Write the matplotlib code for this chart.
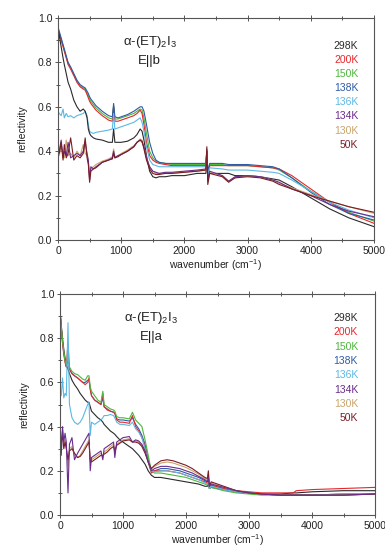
import numpy as np
import matplotlib
matplotlib.use("Agg")
import matplotlib.pyplot as plt
from matplotlib.ticker import MultipleLocator

plt.rcParams['font.family'] = ['Liberation Sans', 'DejaVu Sans']
plt.rcParams['mathtext.fontset'] = 'custom'
plt.rcParams['mathtext.rm'] = 'Liberation Sans'
plt.rcParams['mathtext.it'] = 'Liberation Serif'
plt.rcParams['mathtext.default'] = 'regular'

# ---------------- data ----------------
temps = ['298K', '200K', '150K', '138K', '136K', '134K', '130K', '50K']
colors = {'298K': '#2a2a2a', '200K': '#e8262b', '150K': '#4cb83a', '138K': '#2d5ba6',
          '136K': '#5cb8e4', '134K': '#6a2c8c', '130K': '#c9a46c', '50K': '#7a1d24'}

# E||b panel
wn_b = [0, 20, 50, 80, 100, 130, 160, 200, 250, 300, 350, 400, 430, 460, 480, 500, 520, 560,
        600, 700, 800, 860, 880, 900, 950, 1000, 1100, 1200, 1250, 1300, 1330, 1360, 1400,
        1450, 1500, 1550, 1600, 1700, 1800, 2000, 2200, 2340, 2355, 2370, 2400, 2600, 2700,
        2800, 3000, 3200, 3400, 3500, 3700, 4000, 4300, 4600, 5000]
rb_298 = [0.95, 0.92, 0.87, 0.82, 0.79, 0.75, 0.71, 0.68, 0.63, 0.60, 0.58, 0.59, 0.58, 0.55,
          0.50, 0.48, 0.47, 0.46, 0.455, 0.45, 0.44, 0.44, 0.50, 0.44, 0.44, 0.44, 0.445, 0.46,
          0.475, 0.50, 0.49, 0.45, 0.38, 0.31, 0.285, 0.28, 0.285, 0.285, 0.29, 0.29, 0.30,
          0.30, 0.36, 0.28, 0.30, 0.30, 0.30, 0.29, 0.29, 0.285, 0.275, 0.27, 0.24, 0.19,
          0.14, 0.10, 0.06]
rb_200 = [0.95, 0.93, 0.90, 0.87, 0.85, 0.82, 0.79, 0.77, 0.74, 0.71, 0.69, 0.68, 0.675, 0.655,
          0.64, 0.625, 0.615, 0.60, 0.585, 0.56, 0.54, 0.535, 0.60, 0.535, 0.535, 0.54, 0.55,
          0.56, 0.57, 0.585, 0.57, 0.52, 0.44, 0.38, 0.36, 0.35, 0.345, 0.34, 0.335, 0.335,
          0.335, 0.335, 0.40, 0.30, 0.335, 0.335, 0.335, 0.335, 0.335, 0.33, 0.325, 0.32,
          0.29, 0.23, 0.17, 0.12, 0.075]
rb_150 = [0.95, 0.93, 0.905, 0.875, 0.855, 0.825, 0.795, 0.775, 0.745, 0.715, 0.695, 0.685,
          0.68, 0.66, 0.65, 0.635, 0.625, 0.61, 0.595, 0.57, 0.55, 0.545, 0.605, 0.545, 0.545,
          0.55, 0.56, 0.57, 0.58, 0.59, 0.585, 0.55, 0.48, 0.40, 0.37, 0.355, 0.35, 0.345,
          0.34, 0.34, 0.34, 0.34, 0.40, 0.30, 0.34, 0.34, 0.335, 0.335, 0.335, 0.33, 0.325,
          0.315, 0.28, 0.22, 0.17, 0.125, 0.085]
rb_138 = [0.96, 0.94, 0.91, 0.88, 0.86, 0.83, 0.80, 0.78, 0.75, 0.72, 0.70, 0.69, 0.685, 0.67,
          0.66, 0.645, 0.635, 0.62, 0.605, 0.58, 0.56, 0.555, 0.615, 0.555, 0.55, 0.555, 0.565,
          0.58, 0.59, 0.60, 0.60, 0.58, 0.52, 0.44, 0.39, 0.36, 0.35, 0.345, 0.345, 0.345,
          0.345, 0.345, 0.41, 0.31, 0.345, 0.345, 0.34, 0.34, 0.34, 0.335, 0.33, 0.32, 0.28,
          0.215, 0.16, 0.12, 0.09]
rb_136 = [0.58, 0.57, 0.56, 0.59, 0.55, 0.57, 0.555, 0.56, 0.55, 0.56, 0.565, 0.57, 0.58, 0.56,
          0.52, 0.49, 0.485, 0.48, 0.485, 0.49, 0.495, 0.50, 0.57, 0.50, 0.505, 0.51, 0.52,
          0.53, 0.54, 0.55, 0.53, 0.49, 0.42, 0.36, 0.34, 0.335, 0.33, 0.33, 0.33, 0.33, 0.33,
          0.33, 0.39, 0.29, 0.325, 0.32, 0.315, 0.315, 0.315, 0.31, 0.305, 0.30, 0.27, 0.22,
          0.17, 0.135, 0.10]
rb_134 = [0.42, 0.40, 0.45, 0.37, 0.40, 0.38, 0.44, 0.37, 0.38, 0.39, 0.38, 0.40, 0.44, 0.39,
          0.36, 0.27, 0.33, 0.32, 0.33, 0.35, 0.36, 0.37, 0.40, 0.37, 0.38, 0.385, 0.40, 0.42,
          0.44, 0.45, 0.44, 0.42, 0.37, 0.33, 0.31, 0.305, 0.30, 0.305, 0.305, 0.31, 0.315,
          0.32, 0.40, 0.27, 0.31, 0.29, 0.265, 0.285, 0.29, 0.285, 0.27, 0.26, 0.23, 0.20,
          0.16, 0.13, 0.105]
rb_130 = [0.40, 0.38, 0.42, 0.39, 0.37, 0.45, 0.38, 0.39, 0.37, 0.40, 0.38, 0.43, 0.39, 0.38,
          0.35, 0.29, 0.32, 0.33, 0.34, 0.355, 0.365, 0.375, 0.41, 0.375, 0.38, 0.39, 0.405,
          0.425, 0.44, 0.455, 0.45, 0.42, 0.37, 0.33, 0.31, 0.30, 0.30, 0.30, 0.30, 0.305,
          0.31, 0.315, 0.39, 0.26, 0.305, 0.29, 0.265, 0.28, 0.29, 0.285, 0.27, 0.255, 0.235,
          0.205, 0.175, 0.15, 0.12]
rb_50 = [0.41, 0.39, 0.44, 0.36, 0.43, 0.37, 0.39, 0.46, 0.36, 0.38, 0.37, 0.39, 0.46, 0.37,
         0.34, 0.26, 0.31, 0.32, 0.325, 0.35, 0.36, 0.365, 0.39, 0.37, 0.375, 0.385, 0.40, 0.42,
         0.44, 0.45, 0.445, 0.41, 0.36, 0.32, 0.30, 0.295, 0.295, 0.30, 0.30, 0.305, 0.31,
         0.315, 0.42, 0.25, 0.30, 0.285, 0.26, 0.28, 0.285, 0.28, 0.265, 0.25, 0.23, 0.20,
         0.175, 0.15, 0.125]

# E||a panel
wn_a = [0, 20, 40, 60, 80, 100, 127, 150, 190, 230, 280, 320, 360, 400, 440, 460, 480, 500,
        550, 600, 650, 680, 700, 750, 800, 850, 870, 900, 950, 1000, 1100, 1150, 1200, 1250,
        1300, 1350, 1400, 1450, 1500, 1600, 1700, 1800, 1900, 2000, 2100, 2200, 2300, 2340,
        2355, 2370, 2400, 2600, 2800, 3000, 3200, 3500, 3700, 3750, 4000, 4500, 5000]
ra_298 = [0.93, 0.86, 0.80, 0.75, 0.71, 0.68, 0.66, 0.64, 0.61, 0.59, 0.57, 0.55, 0.535, 0.52,
          0.51, 0.51, 0.49, 0.47, 0.455, 0.44, 0.43, 0.42, 0.41, 0.395, 0.38, 0.37, 0.365,
          0.355, 0.34, 0.33, 0.31, 0.30, 0.285, 0.27, 0.25, 0.23, 0.20, 0.18, 0.17, 0.17,
          0.165, 0.16, 0.155, 0.15, 0.145, 0.14, 0.13, 0.13, 0.15, 0.12, 0.125, 0.115, 0.105,
          0.10, 0.095, 0.095, 0.10, 0.10, 0.105, 0.11, 0.11]
ra_200 = [0.92, 0.85, 0.78, 0.73, 0.69, 0.67, 0.78, 0.66, 0.64, 0.63, 0.62, 0.61, 0.60, 0.59,
          0.60, 0.62, 0.57, 0.54, 0.52, 0.51, 0.50, 0.55, 0.49, 0.475, 0.47, 0.465, 0.46, 0.43,
          0.42, 0.42, 0.415, 0.45, 0.40, 0.38, 0.35, 0.31, 0.24, 0.19, 0.20, 0.20, 0.20, 0.195,
          0.19, 0.18, 0.17, 0.16, 0.15, 0.145, 0.17, 0.13, 0.135, 0.12, 0.11, 0.105, 0.10,
          0.10, 0.10, 0.11, 0.115, 0.12, 0.125]
ra_150 = [0.92, 0.85, 0.79, 0.74, 0.70, 0.68, 0.72, 0.67, 0.65, 0.64, 0.635, 0.625, 0.615,
          0.61, 0.63, 0.63, 0.58, 0.56, 0.54, 0.52, 0.51, 0.56, 0.50, 0.49, 0.48, 0.475, 0.47,
          0.445, 0.44, 0.44, 0.435, 0.465, 0.43, 0.415, 0.40, 0.34, 0.27, 0.20, 0.19, 0.19,
          0.185, 0.18, 0.175, 0.17, 0.16, 0.15, 0.14, 0.135, 0.16, 0.12, 0.125, 0.11, 0.10,
          0.095, 0.09, 0.09, 0.09, 0.09, 0.09, 0.095, 0.095]
ra_138 = [0.92, 0.85, 0.78, 0.73, 0.70, 0.67, 0.70, 0.66, 0.64, 0.63, 0.62, 0.61, 0.60, 0.60,
          0.61, 0.61, 0.57, 0.54, 0.52, 0.51, 0.50, 0.53, 0.49, 0.48, 0.47, 0.465, 0.46, 0.435,
          0.43, 0.43, 0.425, 0.44, 0.41, 0.39, 0.36, 0.32, 0.25, 0.20, 0.20, 0.21, 0.21, 0.205,
          0.20, 0.19, 0.18, 0.17, 0.155, 0.15, 0.17, 0.13, 0.135, 0.12, 0.105, 0.10, 0.095,
          0.09, 0.09, 0.09, 0.09, 0.095, 0.095]
ra_136 = [0.55, 0.54, 0.62, 0.53, 0.55, 0.54, 0.87, 0.50, 0.44, 0.42, 0.41, 0.42, 0.44, 0.47,
          0.50, 0.51, 0.36, 0.42, 0.41, 0.42, 0.43, 0.44, 0.45, 0.45, 0.455, 0.45, 0.44, 0.42,
          0.41, 0.41, 0.405, 0.42, 0.39, 0.375, 0.35, 0.30, 0.24, 0.20, 0.195, 0.20, 0.20,
          0.195, 0.19, 0.18, 0.17, 0.16, 0.145, 0.14, 0.16, 0.12, 0.13, 0.115, 0.105, 0.10,
          0.095, 0.09, 0.09, 0.09, 0.09, 0.095, 0.095]
ra_134 = [0.42, 0.27, 0.40, 0.33, 0.37, 0.33, 0.10, 0.32, 0.35, 0.25, 0.28, 0.30, 0.32, 0.34,
          0.36, 0.37, 0.20, 0.26, 0.27, 0.28, 0.29, 0.25, 0.30, 0.31, 0.32, 0.33, 0.26, 0.33,
          0.34, 0.35, 0.355, 0.33, 0.34, 0.335, 0.32, 0.29, 0.24, 0.20, 0.21, 0.22, 0.22,
          0.215, 0.21, 0.20, 0.19, 0.175, 0.16, 0.15, 0.17, 0.13, 0.14, 0.125, 0.11, 0.10,
          0.095, 0.09, 0.09, 0.09, 0.09, 0.09, 0.095]
ra_130 = [0.40, 0.35, 0.38, 0.32, 0.34, 0.31, 0.22, 0.30, 0.31, 0.27, 0.26, 0.27, 0.29, 0.31,
          0.33, 0.34, 0.24, 0.25, 0.26, 0.27, 0.28, 0.26, 0.285, 0.295, 0.31, 0.32, 0.28,
          0.32, 0.33, 0.34, 0.345, 0.33, 0.335, 0.33, 0.315, 0.285, 0.24, 0.21, 0.22, 0.235,
          0.24, 0.235, 0.225, 0.215, 0.20, 0.185, 0.165, 0.16, 0.19, 0.13, 0.145, 0.125,
          0.11, 0.10, 0.095, 0.09, 0.09, 0.09, 0.09, 0.09, 0.095]
ra_50 = [0.38, 0.33, 0.36, 0.30, 0.33, 0.30, 0.25, 0.29, 0.30, 0.28, 0.26, 0.265, 0.28, 0.30,
         0.32, 0.33, 0.25, 0.24, 0.25, 0.26, 0.27, 0.27, 0.275, 0.285, 0.30, 0.31, 0.29, 0.315,
         0.325, 0.335, 0.34, 0.33, 0.33, 0.325, 0.31, 0.28, 0.24, 0.21, 0.225, 0.245, 0.25,
         0.245, 0.235, 0.225, 0.21, 0.19, 0.17, 0.165, 0.20, 0.13, 0.15, 0.13, 0.11, 0.10,
         0.095, 0.09, 0.09, 0.09, 0.09, 0.09, 0.095]

series_b = {'298K': rb_298, '200K': rb_200, '150K': rb_150, '138K': rb_138,
            '136K': rb_136, '134K': rb_134, '130K': rb_130, '50K': rb_50}
series_a = {'298K': ra_298, '200K': ra_200, '150K': ra_150, '138K': ra_138,
            '136K': ra_136, '134K': ra_134, '130K': ra_130, '50K': ra_50}

draw_order_b = ['150K', '200K', '138K', '136K', '298K', '130K', '134K', '50K']
draw_order_a = ['298K', '138K', '200K', '150K', '136K', '130K', '50K', '134K']

# ---------------- figure ----------------
W, H = 385, 547
fig = plt.figure(figsize=(W / 100, H / 100), dpi=100)

def make_axes(left, top, right, bottom):
    return fig.add_axes([left / W, 1 - bottom / H, (right - left) / W, (bottom - top) / H])

ax_b = make_axes(58, 18, 374, 240)
ax_a = make_axes(60, 294, 375, 515)

spine_col = '#555555'

def style(ax, pol, wn, series, order, lab_y0, lab_dy, lab_x):
    for t in order:
        ax.plot(wn, series[t], color=colors[t], lw=0.8)
    ax.set_xlim(0, 5000)
    ax.set_ylim(0, 1.0)
    ax.xaxis.set_major_locator(MultipleLocator(1000))
    ax.xaxis.set_minor_locator(MultipleLocator(500))
    ax.yaxis.set_major_locator(MultipleLocator(0.2))
    ax.yaxis.set_minor_locator(MultipleLocator(0.1))
    ax.yaxis.set_major_formatter(matplotlib.ticker.FormatStrFormatter('%.1f'))
    for s in ax.spines.values():
        s.set_color(spine_col)
        s.set_linewidth(0.8)
    ax.tick_params(which='both', direction='inout', top=True, right=False,
                   colors=spine_col, labelcolor='#222222', labelsize=7.5, width=0.7)
    ax.tick_params(which='major', length=4, pad=2)
    ax.tick_params(which='minor', length=2.5)
    ax.set_ylabel('reflectivity', fontsize=7.5, color='#222222', labelpad=8)
    ax.set_xlabel('wavenumber (cm$^{-1}$)', fontsize=7.5, color='#222222', labelpad=1)
    ax.text(1450, 0.89, r'$\alpha$-(ET)$_2$I$_3$', ha='center', va='center', fontsize=9.5,
            color='#222222')
    ax.text(1450, 0.805, 'E||' + pol, ha='center', va='center', fontsize=9.5, color='#222222')
    for i, t in enumerate(temps):
        ax.text(lab_x, lab_y0 - i * lab_dy, t, ha='right', va='center', fontsize=7.5,
                color=colors[t])

style(ax_b, 'b', wn_b, series_b, draw_order_b, 0.873, 0.0633, 4750)
style(ax_a, 'a', wn_a, series_a, draw_order_a, 0.891, 0.0647, 4730)

fig.savefig('out.png', dpi=100)
